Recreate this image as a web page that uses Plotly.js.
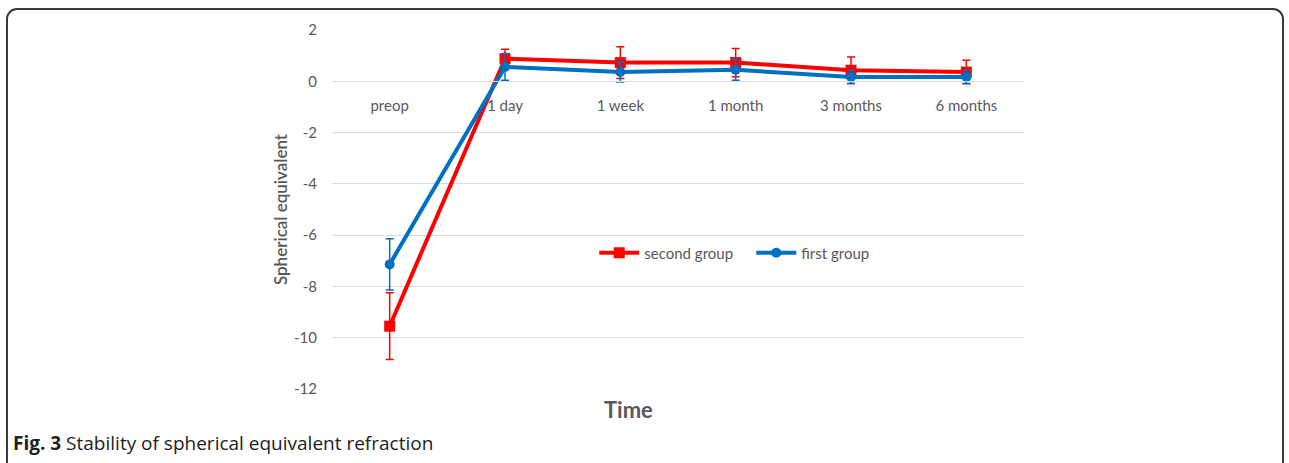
<!DOCTYPE html>
<html>
<head>
<meta charset="utf-8">
<script src="https://cdn.plot.ly/plotly-3.0.1.min.js"></script>
<style>
  html, body { margin: 0; padding: 0; background: #fff; }
  #wrap { position: relative; width: 1289px; height: 463px; overflow: hidden; }
  #chart { width: 1289px; height: 463px; }
  #frame { position: absolute; left: 6px; top: 8px; width: 1278px; height: 480px;
           border: 2px solid #3a3a3a; border-radius: 11px; pointer-events: none; box-sizing: border-box; }
</style>
</head>
<body>
<div id="wrap">
  <div id="chart"></div>
  <div id="frame"></div>
</div>
<script>
const categories = ["preop", "1 day", "1 week", "1 month", "3 months", "6 months"];
const secondGroup = [-9.55, 0.88, 0.73, 0.73, 0.43, 0.36];
const secondGroupErr = [1.3, 0.37, 0.62, 0.55, 0.52, 0.46];
const firstGroup = [-7.14, 0.56, 0.36, 0.45, 0.17, 0.17];
const firstGroupErr = [1.0, 0.52, 0.39, 0.41, 0.26, 0.26];
const yTicks = [2, 0, -2, -4, -6, -8, -10, -12];

const gray = "#595959";
const font = "Lato";

const traces = [
  {
    x: categories, y: secondGroup, name: "second group", type: "scatter", mode: "lines+markers",
    line: { color: "#ff0000", width: 4 },
    marker: { symbol: "square", size: 11, color: "#ff0000" },
    error_y: { type: "data", array: secondGroupErr, visible: true, color: "#ff0000", thickness: 1.5, width: 4 }
  },
  {
    x: categories, y: firstGroup, name: "first group", type: "scatter", mode: "lines+markers",
    line: { color: "#0070c0", width: 4 },
    marker: { symbol: "circle", size: 10, color: "#0070c0" },
    error_y: { type: "data", array: firstGroupErr, visible: true, color: "#0070c0", thickness: 1.5, width: 4 }
  }
];

const layout = {
  width: 1289, height: 463,
  margin: { l: 332, r: 265, t: 30, b: 74 },
  paper_bgcolor: "#fff", plot_bgcolor: "#fff",
  font: { family: font, color: gray, size: 14 },
  showlegend: true,
  legend: {
    orientation: "h", x: 0.379, y: 0.379, xanchor: "left", yanchor: "middle",
    font: { family: font, size: 15, color: gray }, bgcolor: "rgba(0,0,0,0)",
    traceorder: "normal", itemwidth: 40, entrywidth: 102
  },
  xaxis: {
    type: "category", categoryorder: "array", categoryarray: categories,
    range: [-0.5, 5.5], anchor: "free", position: 12 / 14,
    showgrid: false, showline: true, linecolor: "#d9d9d9", linewidth: 1,
    zeroline: false, ticks: "", ticklabelstandoff: 11,
    tickfont: { family: font, size: 15, color: gray },
    fixedrange: true
  },
  yaxis: {
    range: [-12, 2], tickvals: yTicks, ticktext: yTicks.map(String),
    showgrid: true, gridcolor: "#d9d9d9", gridwidth: 1,
    zeroline: false, showline: false, ticks: "", ticklabelstandoff: 14,
    tickfont: { family: font, size: 15, color: gray },
    title: { text: "Spherical equivalent", font: { family: font, size: 17, color: gray, weight: 600 }, standoff: 2 },
    fixedrange: true
  },
  annotations: [
    {
      text: "<b>Time</b>", xref: "paper", yref: "paper", x: 0.428, y: -0.058,
      xanchor: "center", yanchor: "middle", showarrow: false,
      font: { family: font, size: 22, color: gray }
    },
    {
      text: "<b>Fig. 3</b> Stability of spherical equivalent refraction",
      xref: "paper", yref: "paper", x: (11 - 332) / 692, y: (389 - 443) / 359,
      xanchor: "left", yanchor: "middle", showarrow: false,
      font: { family: "'Open Sans'", size: 19, color: "#222" }
    }
  ]
};

Plotly.newPlot("chart", traces, layout, { displayModeBar: false, staticPlot: true });
</script>
</body>
</html>
